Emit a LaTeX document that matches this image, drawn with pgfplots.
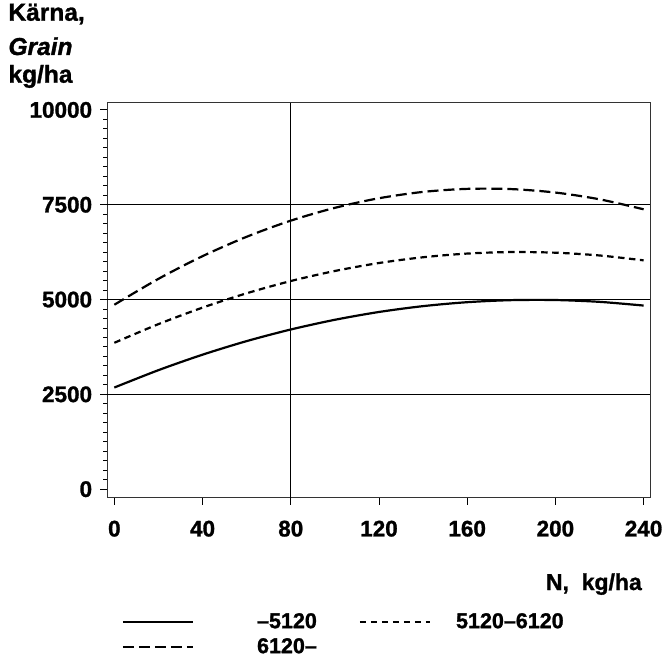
\documentclass[border=0pt]{standalone}
\usepackage{fontspec}
\setmainfont{Liberation Sans}[BoldFeatures={FakeBold=1.2}, BoldItalicFeatures={FakeBold=1.2}]
\usepackage{pgfplots}
\pgfplotsset{compat=1.18}
\begin{document}
\begin{tikzpicture}
\path[use as bounding box] (0,0) rectangle (666pt,-663pt);
\node[anchor=base west, inner sep=0] at (8.3pt,-20.7pt) {\fontsize{24.5}{24.5}\selectfont\bfseries Kärna,};
\node[anchor=base west, inner sep=0] at (8.3pt,-55pt) {\fontsize{24.5}{24.5}\selectfont\bfseries\itshape Grain};
\node[anchor=base west, inner sep=0] at (8.3pt,-82.7pt) {\fontsize{24.5}{24.5}\selectfont\bfseries kg/ha};
\node[anchor=base east, inner sep=0] at (642pt,-590pt) {\fontsize{23}{23}\selectfont\bfseries N,~~kg/ha};
\begin{axis}[
  at={(107.3pt,-102.7pt)}, anchor=north west,
  scale only axis, width=542.7pt, height=394.8pt,
  xmin=-3.2, xmax=242.9, ymin=-220, ymax=10190,
  axis line style={line width=1pt, black!80},
  xtick={0,40,...,240}, ytick={0,2500,...,10000},
  minor y tick num=9,
  scaled y ticks=false,
  tick align=outside, xtick pos=bottom, ytick pos=left,
  major tick length=7pt, minor tick length=4pt,
  tick style={line width=0.9pt, black},
  /pgf/number format/assume math mode=true,
  /pgf/number format/1000 sep={},
  yticklabel style={font=\fontsize{22.5}{22.5}\selectfont\bfseries, inner sep=0pt, xshift=-8pt},
  xticklabel style={font=\fontsize{22.5}{22.5}\selectfont\bfseries, inner sep=0pt, yshift=-16pt},
  extra y ticks={2500,5000,7500}, extra y tick labels={},
  extra x ticks={80}, extra x tick labels={},
  extra tick style={grid=major, major tick length=0pt},
  grid style={line width=1pt, black},
  legend columns=2,
  legend image code/.code={\draw[#1] (0pt,0pt) -- (70pt,0pt);},
  legend style={at={(0.0265,-0.295)}, anchor=north west, draw=none, fill=none,
    inner sep=0pt, column sep=25pt, row sep=9pt,
    font=\fontsize{21.5}{21.5}\selectfont\bfseries,
    nodes={inner sep=0pt, text height=14pt, text depth=2pt}},
  legend cell align=left,
]
\addplot[line width=2.2pt, black, smooth] coordinates {
(0,2680) (20,3138) (40,3546) (60,3904) (80,4210) (100,4466) (120,4672)
(140,4826) (160,4930) (180,4984) (200,4987) (220,4939) (240,4841)};
\addlegendentry{\hspace*{38pt}–5120\hspace*{17pt}\mbox{}}
\addplot[line width=2.2pt, black, smooth, dash pattern=on 6.5pt off 4.5pt] coordinates {
(0,3860) (20,4352) (40,4787) (60,5165) (80,5488) (100,5753) (120,5963)
(140,6115) (160,6212) (180,6252) (200,6235) (220,6162) (240,6033)};
\addlegendentry{5120–6120}
\addplot[line width=2.2pt, black, smooth, dash pattern=on 11pt off 5pt] coordinates {
(0,4863) (20,5546) (40,6144) (60,6655) (80,7080) (100,7418) (120,7671)
(140,7838) (160,7918) (180,7912) (200,7821) (220,7643) (240,7379)};
\addlegendentry{\hspace*{38pt}6120–}
\end{axis}
\end{tikzpicture}
\end{document}
